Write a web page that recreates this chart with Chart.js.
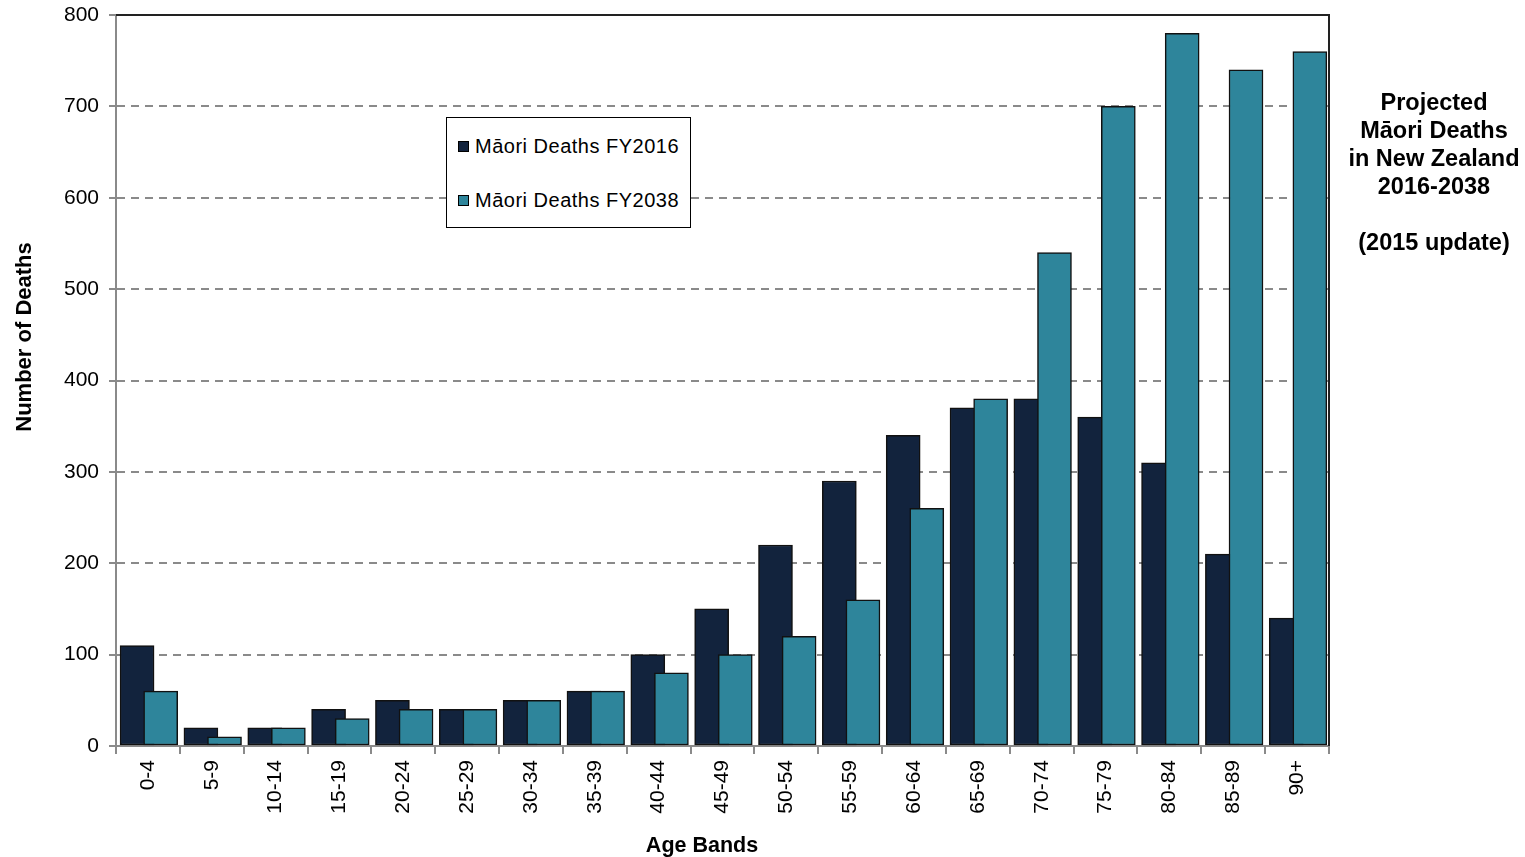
<!DOCTYPE html>
<html lang="en">

<head>
    <meta charset="UTF-8">
    <title>Projected Māori Deaths</title>
    <script src="https://cdn.jsdelivr.net/npm/chart.js"></script>
    <style>
        body { margin: 0; background: #fff; font-family: 'Liberation Sans', Arial, sans-serif; }
        #wrap { position: relative; width: 1525px; height: 857px; }
        #legend {
            position: absolute; left: 446px; top: 117px; width: 243px; height: 109px;
            border: 1.5px solid #000; background: #fff; font-size: 20px; letter-spacing: 0.5px; color: #000;
        }
        .item { position: absolute; left: 11px; display: flex; align-items: center; }
        .box { width: 9px; height: 9px; border: 1px solid #000; margin-right: 6px; }
        #side {
            position: absolute; left: 1339px; top: 88px; width: 190px; text-align: center;
            font-weight: bold; font-size: 23.5px; line-height: 28px; color: #000;
        }
    </style>
</head>

<body>
    <div id="wrap">
        <canvas id="deathsChart" width="1525" height="857"></canvas>
        <div id="legend"></div>
        <div id="side">Projected<br>Māori Deaths<br>in New Zealand<br>2016-2038<br><br>(2015 update)</div>
    </div>

    <script>
        // age bands along the bottom
        const ageBands = ['0-4', '5-9', '10-14', '15-19', '20-24', '25-29', '30-34', '35-39', '40-44',
            '45-49', '50-54', '55-59', '60-64', '65-69', '70-74', '75-79', '80-84', '85-89', '90+'];

        // deaths
        const deaths2016 = [110, 20, 20, 40, 50, 40, 50, 60, 100, 150, 220, 290, 340, 370, 380, 360, 310, 210, 140];
        const deaths2038 = [60, 10, 20, 30, 40, 40, 50, 60, 80, 100, 120, 160, 260, 380, 540, 700, 780, 740, 760];

        const seriesNames = ['Māori Deaths FY2016', 'Māori Deaths FY2038'];
        const seriesColors = ['#12233d', '#2e859b'];

        const yTicks = [0, 100, 200, 300, 400, 500, 600, 700, 800];

        const xTitle = 'Age Bands';
        const yTitle = 'Number of Deaths';

        // bars overlap like the excel original, so place each series a bit off the band centre
        const shift = [-0.17, 0.2];
        const toPoints = (vals, s) => vals.map((v, i) => ({ x: i + shift[s], y: v }));

        const font = "'Liberation Sans', Arial, sans-serif";

        // black frame on top and right of the plot + axis titles
        const frame = {
            id: 'frame',
            afterDraw(chart) {
                const { ctx, chartArea: a } = chart;
                ctx.save();
                ctx.strokeStyle = '#222';
                ctx.lineWidth = 2;
                ctx.beginPath();
                ctx.moveTo(a.left, a.top);
                ctx.lineTo(a.right, a.top);
                ctx.lineTo(a.right, a.bottom);
                ctx.stroke();

                ctx.fillStyle = '#000';
                ctx.textAlign = 'center';
                ctx.textBaseline = 'middle';
                ctx.font = 'bold 21.5px ' + font;
                ctx.fillText(xTitle, a.left + 586, 846);
                ctx.font = 'bold 22px ' + font;
                ctx.translate(25, 337);
                ctx.rotate(-Math.PI / 2);
                ctx.fillText(yTitle, 0, 0);
                ctx.restore();
            }
        };

        const ctx = document.getElementById('deathsChart').getContext('2d');
        new Chart(ctx, {
            type: 'bar',
            data: {
                labels: ageBands,
                datasets: [{
                    label: seriesNames[0],
                    data: toPoints(deaths2016, 0),
                    backgroundColor: seriesColors[0],
                    borderColor: '#111',
                    borderWidth: 1.5,
                    borderSkipped: false,
                    barThickness: 34,
                    grouped: false,
                    order: 2,
                    xAxisID: 'xl'
                }, {
                    label: seriesNames[1],
                    data: toPoints(deaths2038, 1),
                    backgroundColor: seriesColors[1],
                    borderColor: '#111',
                    borderWidth: 1.5,
                    borderSkipped: false,
                    barThickness: 34,
                    grouped: false,
                    order: 1,
                    xAxisID: 'xl'
                }]
            },
            options: {
                responsive: false,
                animation: false,
                layout: { padding: { top: 15, right: 196, left: 0, bottom: 0 } },
                scales: {
                    xl: {
                        type: 'linear',
                        display: false,
                        offset: false,
                        min: -0.5,
                        max: ageBands.length - 0.5
                    },
                    x: {
                        type: 'category',
                        offset: true,
                        afterFit: s => { s.height = 111; },
                        grid: {
                            offset: true,
                            drawOnChartArea: false,
                            tickLength: 8,
                            color: '#8a8a8a',
                            lineWidth: 2
                        },
                        border: { color: '#8a8a8a', width: 2 },
                        ticks: {
                            autoSkip: false,
                            minRotation: 90,
                            maxRotation: 90,
                            padding: 6,
                            color: '#000',
                            font: { family: font, size: 21 }
                        }
                    },
                    y: {
                        min: 0,
                        max: 800,
                        afterFit: s => { s.width = 116; s.paddingTop = 0; s.paddingBottom = 0; },
                        afterBuildTicks: s => { s.ticks = yTicks.map(v => ({ value: v })); },
                        grid: {
                            color: c => (c.tick.value === 0 || c.tick.value === 800) ? 'rgba(0,0,0,0)' : '#8a8a8a',
                            tickColor: '#8a8a8a',
                            lineWidth: 2,
                            tickLength: 7
                        },
                        border: { color: '#8a8a8a', width: 2, dash: [8, 6] },
                        ticks: {
                            padding: 10,
                            color: '#000',
                            font: { family: font, size: 21 }
                        }
                    }
                },
                plugins: {
                    legend: { display: false },
                    tooltip: { enabled: false }
                }
            },
            plugins: [frame]
        });

        // legend box inside the plot
        const legend = document.getElementById('legend');
        seriesNames.forEach((name, i) => {
            const item = document.createElement('div');
            item.className = 'item';
            item.style.top = (17 + i * 54) + 'px';
            item.innerHTML = '<span class="box" style="background:' + seriesColors[i] + '"></span>' + name;
            legend.appendChild(item);
        });
    </script>
</body>

</html>
